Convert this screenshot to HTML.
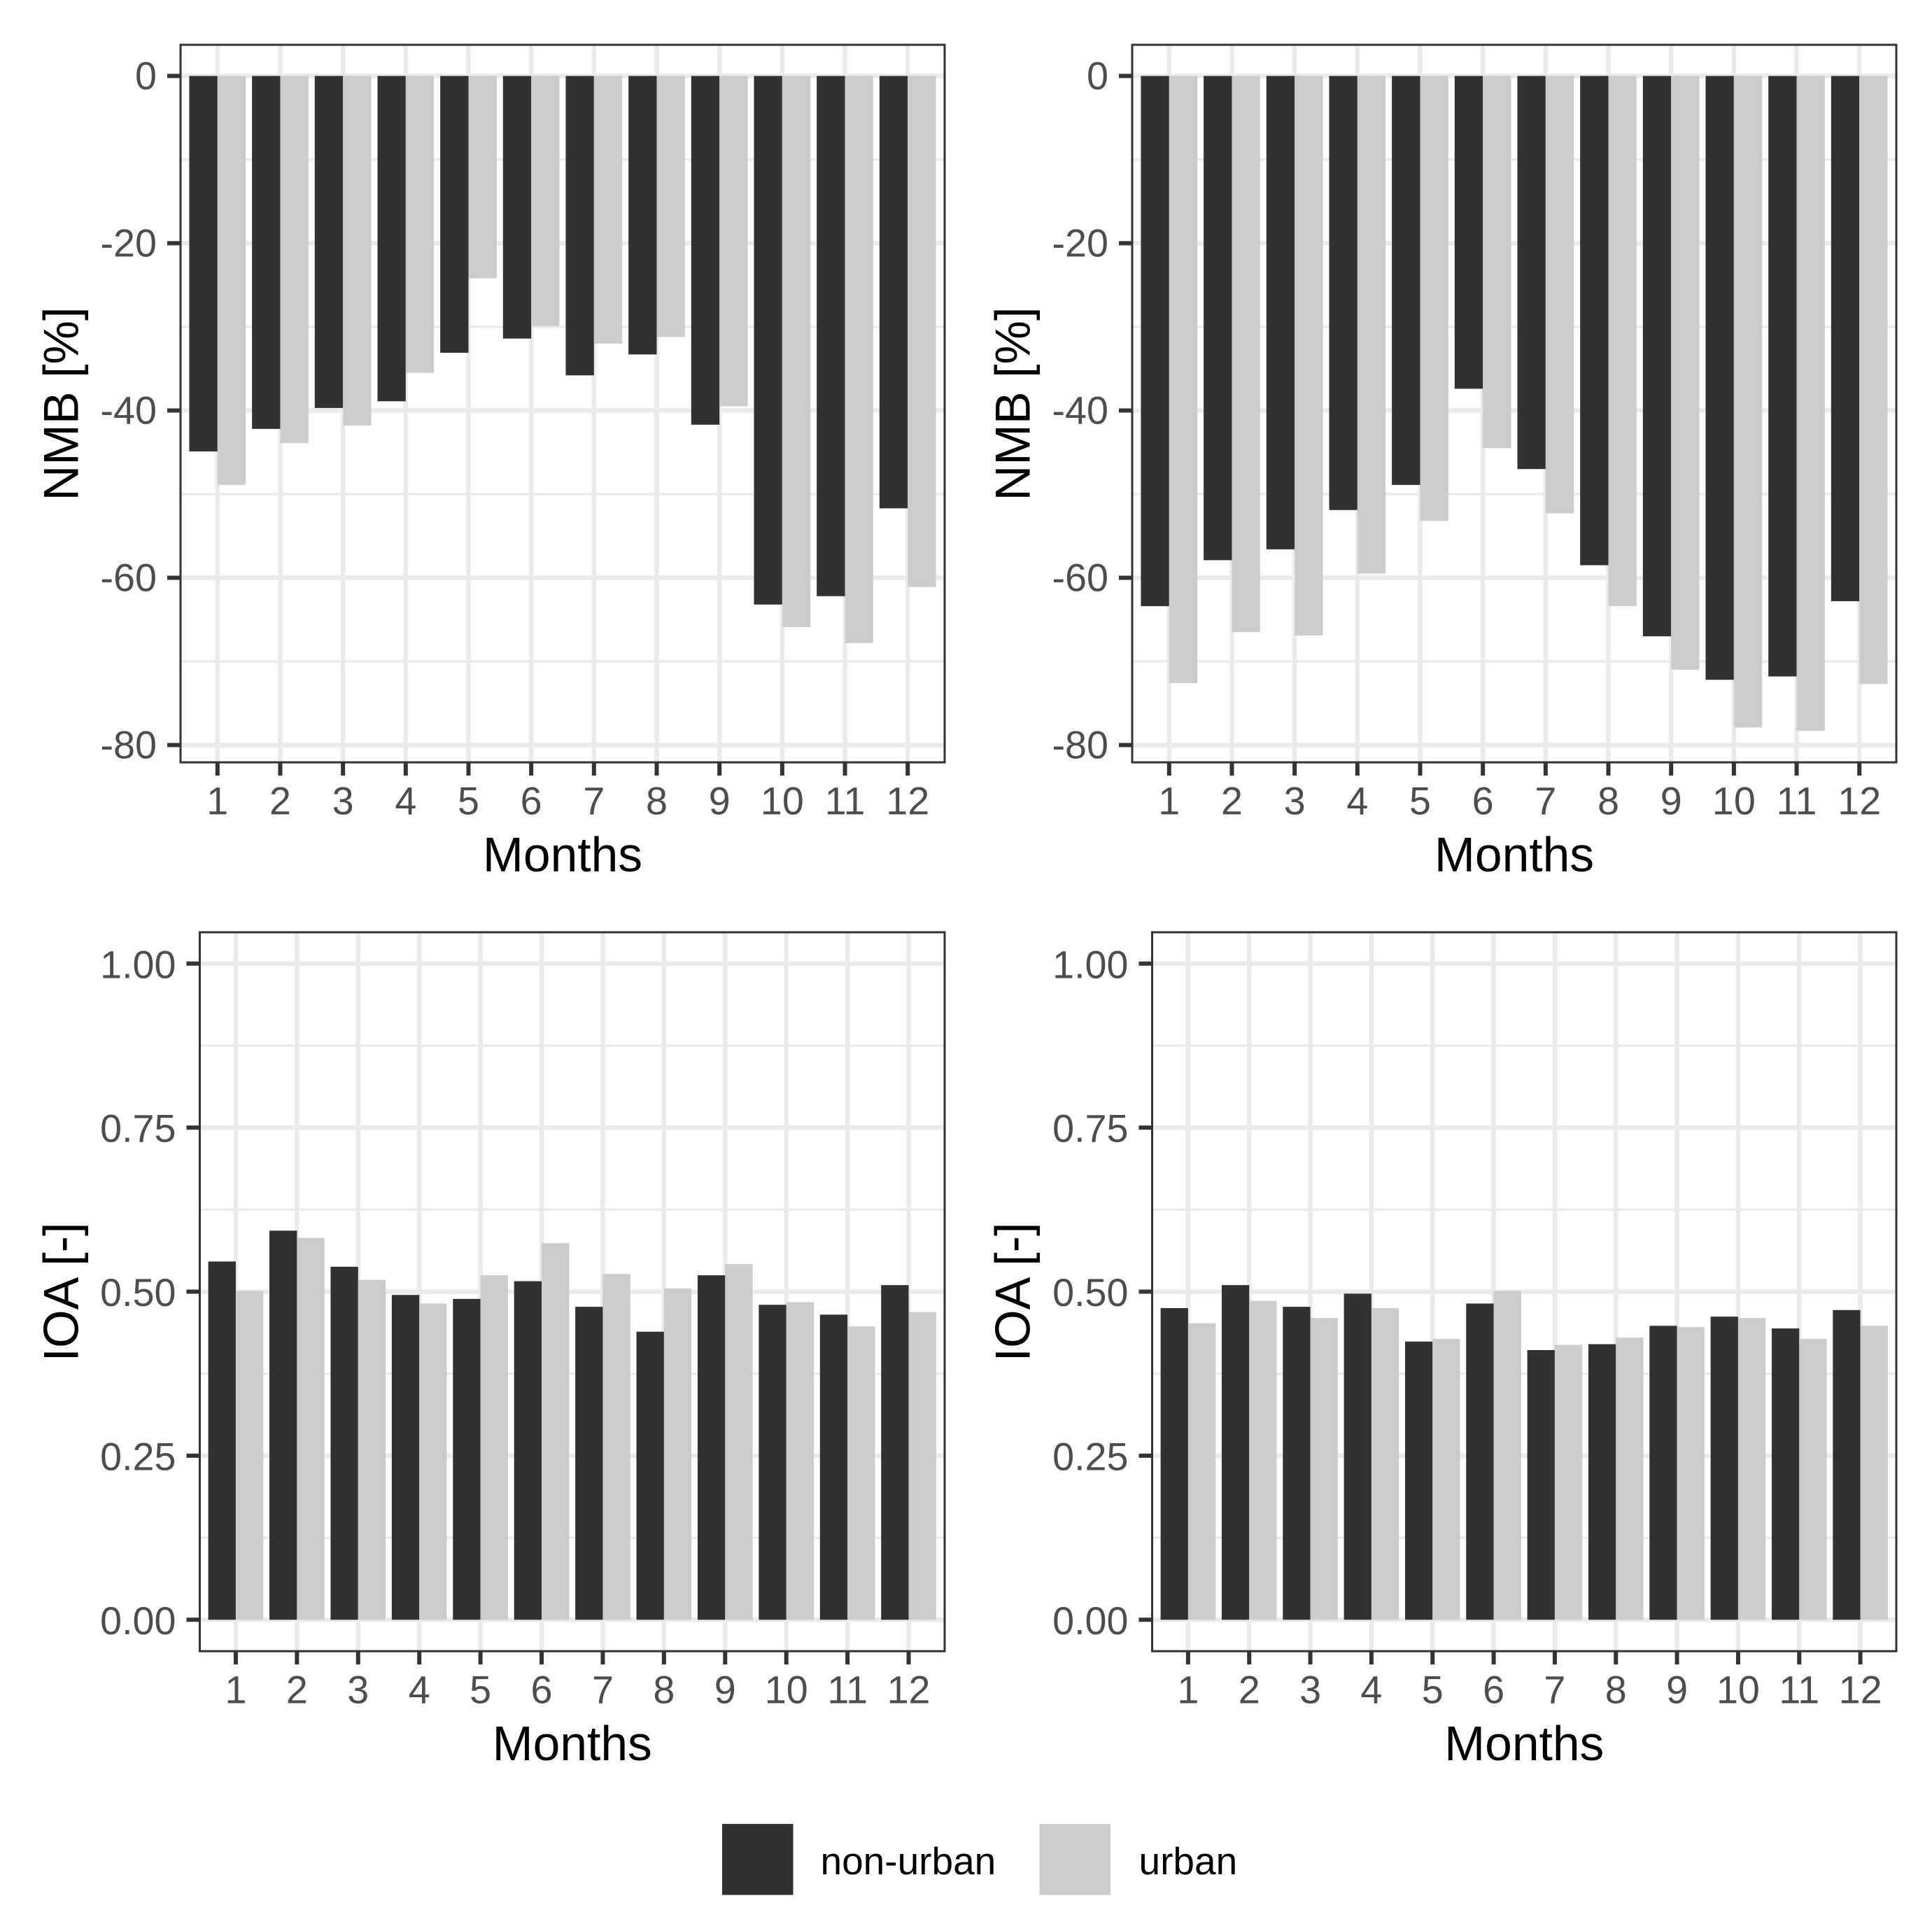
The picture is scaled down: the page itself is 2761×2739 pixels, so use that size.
<!DOCTYPE html>
<html lang="en">
<head>
<meta charset="utf-8">
<title>NMB and IOA by month</title>
<style>
html,body{margin:0;padding:0;background:#fff;}
svg{display:block;font-family:"Liberation Sans",Arial,sans-serif;}
</style>
</head>
<body>
<svg id="figure" xmlns="http://www.w3.org/2000/svg" width="2761" height="2739" viewBox="0 0 2761 2739"></svg>
<script>
const months = [1,2,3,4,5,6,7,8,9,10,11,12];
const nmbTicks = [0,-20,-40,-60,-80];
const nmbTickLabels = ["0","-20","-40","-60","-80"];
const nmbMinorTicks = [-10,-30,-50,-70];
const ioaTicks = [0,0.25,0.5,0.75,1];
const ioaTickLabels = ["0.00","0.25","0.50","0.75","1.00"];
const ioaMinorTicks = [0.125,0.375,0.625,0.875];
const seriesNames = ["non-urban","urban"];

const nmbLeftNonUrban = [-44.9,-42.2,-39.7,-38.9,-33.1,-31.4,-35.8,-33.3,-41.7,-63.2,-62.2,-51.7];
const nmbLeftUrban = [-48.9,-43.9,-41.8,-35.5,-24.2,-29.9,-32.0,-31.2,-39.5,-65.9,-67.8,-61.1];
const nmbRightNonUrban = [-63.4,-57.9,-56.6,-51.9,-48.9,-37.4,-47.0,-58.5,-67.0,-72.2,-71.8,-62.8];
const nmbRightUrban = [-72.6,-66.5,-66.9,-59.5,-53.2,-44.5,-52.3,-63.4,-71.0,-77.9,-78.3,-72.7];
const ioaLeftNonUrban = [0.546,0.593,0.538,0.495,0.489,0.516,0.477,0.439,0.525,0.480,0.465,0.510];
const ioaLeftUrban = [0.501,0.582,0.518,0.482,0.525,0.574,0.527,0.505,0.542,0.484,0.447,0.469];
const ioaRightNonUrban = [0.475,0.510,0.477,0.497,0.424,0.482,0.411,0.420,0.448,0.462,0.444,0.472];
const ioaRightUrban = [0.452,0.486,0.460,0.475,0.428,0.501,0.419,0.430,0.446,0.460,0.428,0.448];

const NS = "http://www.w3.org/2000/svg";
const figure = document.getElementById("figure");
const DARK = "#313131", LIGHT = "#cccccc", GRID = "#ebebeb", AXIS = "#333333", TICKTEXT = "#4d4d4d";

function add(parent, tag, attrs, text){
  const el = document.createElementNS(NS, tag);
  for (const k in attrs) el.setAttribute(k, attrs[k]);
  if (text !== undefined) el.textContent = text;
  parent.appendChild(el);
  return el;
}

function drawPanel(cfg){
  const g = add(figure, "g", {});
  
  

  const unit = (cfg.right - cfg.left) / 12.2;
  const xScale = m => cfg.left + (m - 0.4) * unit;
  const yScale = v => cfg.y0 + (v - cfg.v0) * cfg.pxPerUnit;
  const edgeL = cfg.left + 1, edgeR = cfg.right - 1, edgeB = cfg.bottom - 0.8;

  cfg.minor.forEach(v => {
    const l = add(g, "line", {x1:edgeL, x2:edgeR, y1:yScale(v), y2:yScale(v), stroke:GRID, "stroke-width":3.4});
    
    
  });
  cfg.ticks.forEach(v => {
    const l = add(g, "line", {x1:edgeL, x2:edgeR, y1:yScale(v), y2:yScale(v), stroke:GRID, "stroke-width":6.4});
    
    
  });
  months.forEach(m => {
    const l = add(g, "line", {x1:xScale(m), x2:xScale(m), y1:cfg.top, y2:edgeB, stroke:GRID, "stroke-width":6.4});
    
    
  });

  const barW = unit * 0.45;
  const base = yScale(cfg.baseline);
  months.forEach((m, i) => {
    [[cfg.a, DARK, -1, 'bar-non-urban'], [cfg.b, LIGHT, 0, 'bar-urban']].forEach(spec => {
      const yv = yScale(spec[0][i]);
      const r = add(g, "rect", {
        x: xScale(m) + spec[2] * barW,
        y: Math.min(yv, base),
        width: barW,
        height: Math.abs(yv - base),
        fill: spec[1]
      });
      
      
    });
  });

  const border = add(g, "rect", {x:edgeL, y:cfg.top, width:edgeR-edgeL, height:edgeB-cfg.top, fill:"none", stroke:AXIS, "stroke-width":3});
  
  

  cfg.ticks.forEach((v, i) => {
    const t = add(g, "line", {x1:edgeL-19, x2:edgeL, y1:yScale(v), y2:yScale(v), stroke:AXIS, "stroke-width":6});
    
    
    const lab = add(g, "text", {x:cfg.left-33, y:yScale(v)+cfg.labelDy, "text-anchor":"end", "font-size":55.7, fill:TICKTEXT}, cfg.tickLabels[i]);
    
    
  });
  months.forEach(m => {
    const t = add(g, "line", {x1:xScale(m), x2:xScale(m), y1:edgeB, y2:edgeB+19, stroke:AXIS, "stroke-width":6});
    
    
    const lab = add(g, "text", {x:xScale(m), y:cfg.bottom+73.5, "text-anchor":"middle", "font-size":55.7, fill:TICKTEXT}, String(m));
    
    
  });

  const xTitle = add(g, "text", {x:(cfg.left+cfg.right)/2, y:cfg.bottom+155, "text-anchor":"middle", "font-size":69.6, fill:"#000"}, "Months");
  
  
  const cy = (cfg.top + cfg.bottom) / 2;
  const yTitle = add(g, "text", {x:0, y:0, transform:"translate("+cfg.titleX+" "+cy+") rotate(-90)", "text-anchor":"middle", "font-size":70.2, fill:"#000"}, cfg.yTitle);
  
  
}

const nmbScale = {top:64, bottom:1090, y0:108.5, v0:0, pxPerUnit:-11.95, baseline:0, labelDy:19.2, ticks:nmbTicks, tickLabels:nmbTickLabels, minor:nmbMinorTicks, yTitle:"NMB [%]"};
const ioaScale = {top:1332, bottom:2360, y0:2314.3, v0:0, pxPerUnit:-937.5, baseline:0, labelDy:20.5, ticks:ioaTicks, tickLabels:ioaTickLabels, minor:ioaMinorTicks, yTitle:"IOA [-]"};

drawPanel(Object.assign({}, nmbScale, {name:"panel-nmb-left", left:257, right:1351, titleX:111.5, a:nmbLeftNonUrban, b:nmbLeftUrban}));
drawPanel(Object.assign({}, nmbScale, {name:"panel-nmb-right", left:1617, right:2711, titleX:1471.5, a:nmbRightNonUrban, b:nmbRightUrban}));
drawPanel(Object.assign({}, ioaScale, {name:"panel-ioa-left", left:284.5, right:1351, titleX:111.5, a:ioaLeftNonUrban, b:ioaLeftUrban}));
drawPanel(Object.assign({}, ioaScale, {name:"panel-ioa-right", left:1645.5, right:2711, titleX:1471.5, a:ioaRightNonUrban, b:ioaRightUrban}));

const legend = add(figure, "g", {});


[[1032, 1172.5, DARK, 'legend-entry-non-urban'], [1485.5, 1627.5, LIGHT, 'legend-entry-urban']].forEach((spec, i) => {
  const sw = add(legend, "rect", {x:spec[0], y:2606, width:101.5, height:101.5, fill:spec[2]});
  
  
  const t = add(legend, "text", {x:spec[1], y:2678, "font-size":55, fill:"#000"}, seriesNames[i]);
  
  
});
</script>
</body>
</html>
